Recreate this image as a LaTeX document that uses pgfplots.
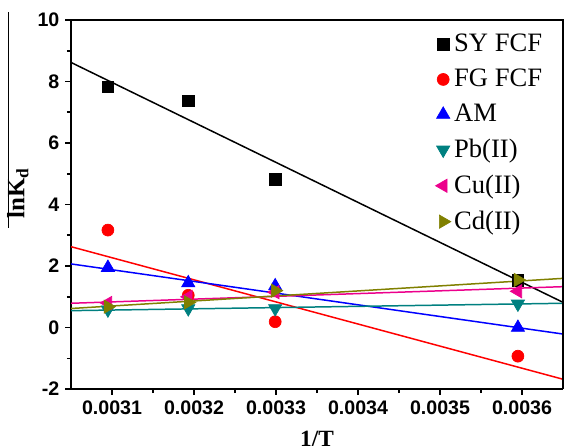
\documentclass[border=0pt]{standalone}
\usepackage{fontspec}
\setmainfont{Liberation Serif}
\setsansfont{Liberation Sans}
\usepackage{pgfplots}
\pgfplotsset{compat=1.18}

\definecolor{pbteal}{RGB}{0,128,128}
\definecolor{cdolive}{RGB}{128,128,0}

\begin{document}
\begin{tikzpicture}
\begin{axis}[
  scale only axis,
  width=296.2pt, height=222.2pt,
  xmin=0.00305, xmax=0.00365,
  ymin=-2, ymax=10,
  axis line style={line width=1.2pt},
  axis x line*=bottom, axis y line*=left,
  xtick={0.0031,0.0032,0.0033,0.0034,0.0035,0.0036},
  xticklabels={0.0031,0.0032,0.0033,0.0034,0.0035,0.0036},
  scaled x ticks=false,
  ytick={-2,0,2,4,6,8,10},
  minor x tick num=1, minor y tick num=1,
  tick align=outside,
  major tick length=3.5pt, minor tick length=2.5pt,
  every tick/.style={black, line width=1pt},
  /pgf/number format/assume math mode=true,
  tick label style={font=\sffamily\bfseries\fontsize{11.8}{13}\selectfont},
  xlabel={\textbf{1/T}},
  ylabel={\textbf{lnK\textsubscript{d}}},
  xlabel style={font=\fontsize{14}{16}\selectfont, at={(rel axis cs:0.5,-0.136)}, anchor=center},
  ylabel style={font=\fontsize{15}{17}\selectfont, at={(rel axis cs:-0.108,0.531)}, anchor=center},
  clip=true,
  legend cell align=left,
  legend style={draw=none, fill=none, at={(rel axis cs:0.975,0.98)}, anchor=north east,
    font=\fontsize{16}{18}\selectfont, row sep=5pt,
    /tikz/every even column/.append style={column sep=5pt}},
]
% fitted lines
\addplot[black, line width=0.9pt, forget plot] coordinates {(0.00305,8.62) (0.00365,0.82)};
\addplot[red, line width=0.9pt, forget plot] coordinates {(0.00305,2.63) (0.00365,-1.68)};
\addplot[blue, line width=0.9pt, forget plot] coordinates {(0.00305,2.07) (0.00365,-0.21)};
\addplot[pbteal, line width=0.9pt, forget plot] coordinates {(0.00305,0.55) (0.00365,0.79)};
\addplot[magenta, line width=0.9pt, forget plot] coordinates {(0.00305,0.79) (0.00365,1.33)};
\addplot[cdolive, line width=0.9pt, forget plot] coordinates {(0.00305,0.62) (0.00365,1.60)};
% data
\addplot[only marks, mark=square*, mark size=3.4pt, black] coordinates {
  (0.003095,7.83) (0.003193,7.38) (0.003299,4.82) (0.003595,1.54)};
\addlegendentry{SY FCF}
\addplot[only marks, mark=*, mark size=3.6pt, red] coordinates {
  (0.003095,3.17) (0.003193,1.05) (0.003299,0.19) (0.003595,-0.93)};
\addlegendentry{FG FCF}
\addplot[only marks, mark=triangle*, mark size=4.6pt, blue] coordinates {
  (0.003095,1.95) (0.003193,1.45) (0.003299,1.35) (0.003595,0.00)};
\addlegendentry{AM}
\addplot[only marks, mark=triangle*, mark options={rotate=180}, mark size=4.6pt, pbteal] coordinates {
  (0.003095,0.58) (0.003193,0.62) (0.003299,0.62) (0.003595,0.77)};
\addlegendentry{Pb(II)}
\addplot[only marks, mark=triangle*, mark options={rotate=90}, mark size=4.6pt, magenta] coordinates {
  (0.003095,0.80) (0.003193,1.00) (0.003299,1.15) (0.003595,1.18)};
\addlegendentry{Cu(II)}
\addplot[only marks, mark=triangle*, mark options={rotate=-90}, mark size=4.6pt, cdolive] coordinates {
  (0.003095,0.68) (0.003193,0.82) (0.003299,1.20) (0.003595,1.55)};
\addlegendentry{Cd(II)}
\end{axis}
\draw[line width=1.2pt] (current axis.north west) -- (current axis.north east) -- (current axis.south east);
\draw[line width=0.6pt] ([shift={(-37.9pt,4.8pt)}]current axis.north west) -- ([shift={(-37.9pt,-125.2pt)}]current axis.north west);
\pgfresetboundingbox
\path[use as bounding box] ([shift={(-42.75pt,-33.7pt)}]current axis.south west) rectangle ([shift={(1.2pt,12.04pt)}]current axis.north east);
\end{tikzpicture}
\end{document}
